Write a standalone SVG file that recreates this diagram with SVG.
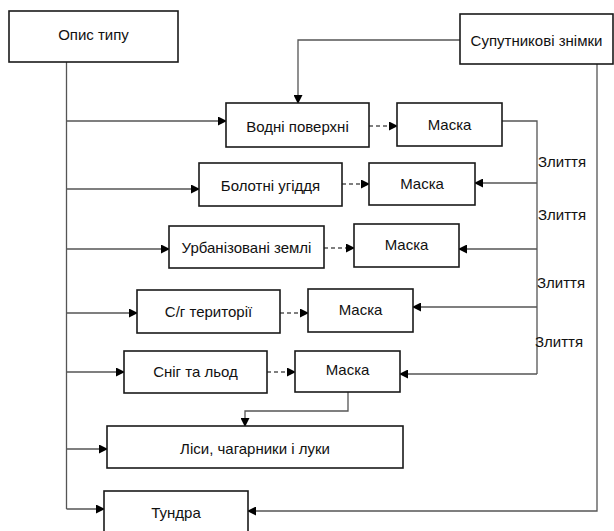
<svg xmlns="http://www.w3.org/2000/svg" width="614" height="531" viewBox="0 0 614 531">
<defs>
<marker id="ah" markerWidth="9" markerHeight="9" refX="8" refY="4.5" orient="auto" markerUnits="userSpaceOnUse">
<path d="M0,0 L9,4.5 L0,9 Z" fill="#000"/>
</marker>
<style>
.box{fill:#fff;stroke:#1a1a1a;stroke-width:1.6}
.t{font-family:"Liberation Sans",Arial,sans-serif;font-size:15px;fill:#111;text-anchor:middle;dominant-baseline:central}
.c{fill:none;stroke:#555;stroke-width:1.3}
.a{fill:none;stroke:#555;stroke-width:1.3;marker-end:url(#ah)}
.d{fill:none;stroke:#555;stroke-width:1.3;stroke-dasharray:4,3;marker-end:url(#ah)}
</style>
</defs>
<rect width="614" height="531" fill="#fff"/>
<g id="connectors">
<path class="c" d="M66.5,62 V509"/>
<path class="a" d="M66.5,121 H226"/>
<path class="a" d="M66.5,189 H199"/>
<path class="a" d="M66.5,249 H169"/>
<path class="a" d="M66.5,313 H137"/>
<path class="a" d="M66.5,372 H124"/>
<path class="a" d="M66.5,449 H107"/>
<path class="a" d="M66.5,509 H104"/>
<path class="a" d="M460,40 H298 V103"/>
<path class="d" d="M369,126 H397"/>
<path class="d" d="M342,184 H369"/>
<path class="d" d="M324,248 H354"/>
<path class="d" d="M280,313 H308"/>
<path class="d" d="M267,372 H295"/>
<path class="c" d="M502,121 H537 V374"/>
<path class="a" d="M537,183 H475"/>
<path class="a" d="M537,249 H459"/>
<path class="a" d="M537,307 H413"/>
<path class="a" d="M537,374 H400"/>
<path class="a" d="M348,392 V411 H245 V426"/>
<path class="a" d="M597,64 V511 H248"/>
</g>
<g id="opys"><rect class="box" x="9" y="11" width="169" height="51"/><text class="t" x="93.5" y="34">Опис типу</text></g>
<g id="suputnykovi"><rect class="box" x="460" y="14" width="153" height="50"/><text class="t" x="536.5" y="40">Супутникові знімки</text></g>
<g id="vodni"><rect class="box" x="226" y="103" width="143" height="44"/><text class="t" x="297.5" y="126">Водні поверхні</text></g>
<g id="maska1"><rect class="box" x="397" y="103" width="105" height="43"/><text class="t" x="449.5" y="124">Маска</text></g>
<g id="boloti"><rect class="box" x="199" y="163" width="143" height="43"/><text class="t" x="270.5" y="185">Болотні угіддя</text></g>
<g id="maska2"><rect class="box" x="369" y="163" width="106" height="42"/><text class="t" x="422" y="183">Маска</text></g>
<g id="urban"><rect class="box" x="169" y="226" width="155" height="42"/><text class="t" x="246.5" y="247">Урбанізовані землі</text></g>
<g id="maska3"><rect class="box" x="354" y="224" width="105" height="43"/><text class="t" x="406.5" y="244">Маска</text></g>
<g id="sg"><rect class="box" x="137" y="290" width="143" height="43"/><text class="t" x="208.5" y="311">С/г території</text></g>
<g id="maska4"><rect class="box" x="308" y="289" width="105" height="43"/><text class="t" x="360.5" y="309">Маска</text></g>
<g id="snig"><rect class="box" x="124" y="351" width="143" height="42"/><text class="t" x="195.5" y="371">Сніг та льод</text></g>
<g id="maska5"><rect class="box" x="295" y="351" width="105" height="41"/><text class="t" x="347.5" y="369">Маска</text></g>
<g id="lisy"><rect class="box" x="107" y="426" width="296" height="42"/><text class="t" x="255" y="448">Ліси, чагарники і луки</text></g>
<g id="tundra"><rect class="box" x="104" y="491" width="144" height="50"/><text class="t" x="176" y="512">Тундра</text></g>
<g id="labels">
<text class="t" x="562" y="161">Злиття</text>
<text class="t" x="562" y="214">Злиття</text>
<text class="t" x="561" y="282">Злиття</text>
<text class="t" x="559" y="341">Злиття</text>
</g>
</svg>
